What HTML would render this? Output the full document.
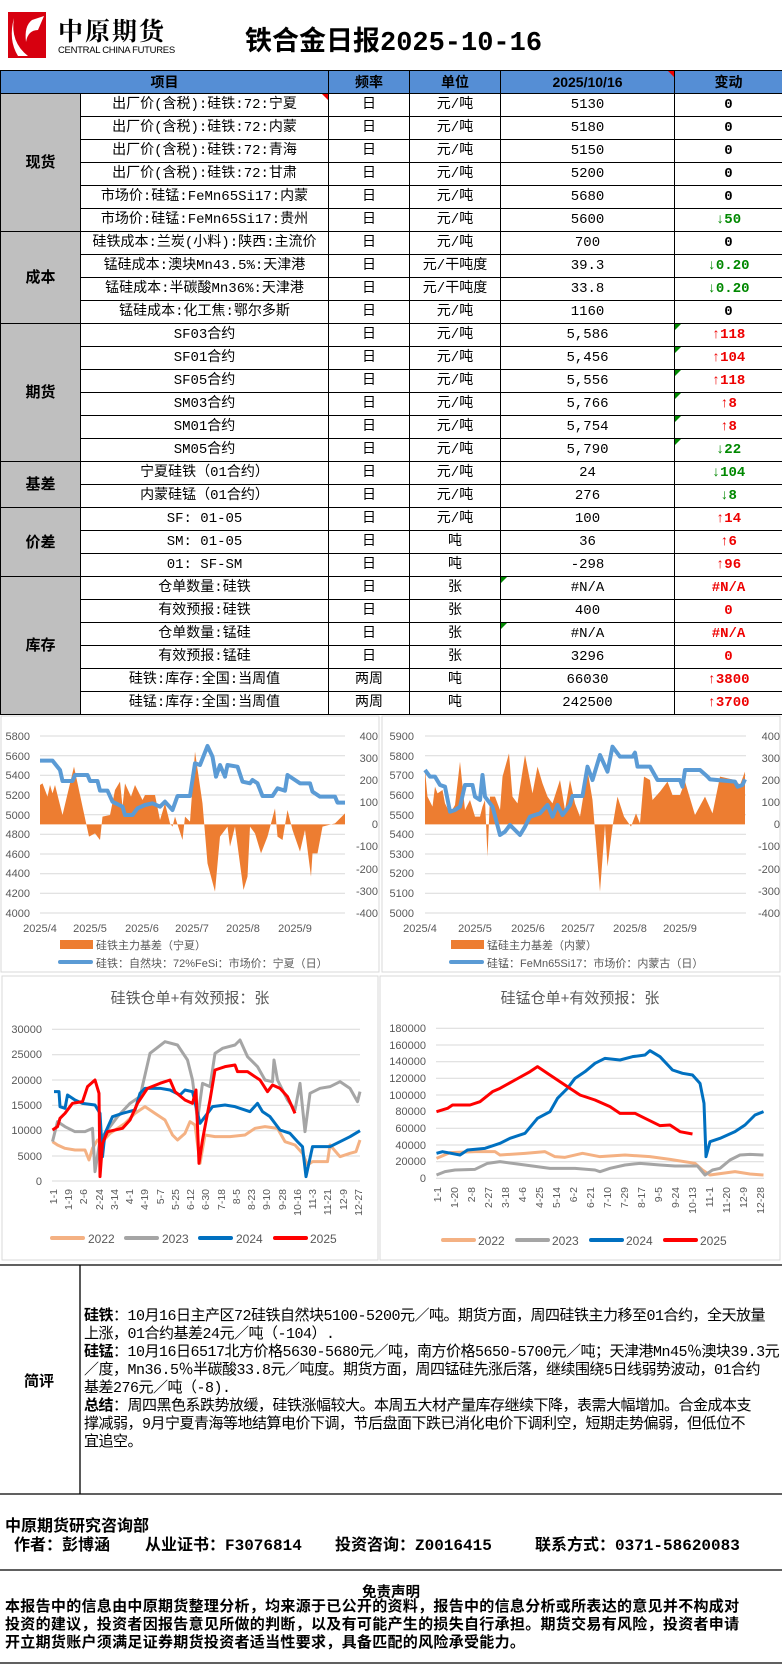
<!DOCTYPE html>
<html><head><meta charset="utf-8"><style>
*{margin:0;padding:0;box-sizing:border-box}
body{width:782px;height:1664px;position:relative;background:#fff;font-family:"Liberation Sans","Noto Sans CJK SC",sans-serif;color:#000;overflow:hidden}
.a{position:absolute;white-space:nowrap}
table{position:absolute;left:0;top:70px;border-collapse:collapse;table-layout:fixed;width:782px}
td{border:1px solid #000;height:23px;font-size:14px;text-align:center;padding:0;line-height:21px;font-family:"Liberation Mono","Noto Sans CJK SC",monospace;overflow:hidden;white-space:nowrap;position:relative}
tr.h td{background:#558ed5;font-weight:bold;font-family:"Liberation Sans","Noto Sans CJK SC",sans-serif}
td.c{background:#bfbfbf;font-weight:bold;font-size:15px;font-family:"Liberation Sans","Noto Sans CJK SC",sans-serif}
.r{color:#e00;font-weight:bold}.g{color:#080;font-weight:bold}.b{font-weight:bold}
.tri:after{content:"";position:absolute;right:0;top:0;border-top:6px solid #e00;border-left:6px solid transparent}
.trg:after{content:"";position:absolute;left:0;top:0;border-top:6px solid #080;border-right:6px solid transparent}
svg text{font-family:"Liberation Sans","Noto Sans CJK SC",sans-serif}
.f{position:absolute;top:1531px;font-size:16px;font-weight:bold;font-family:'Liberation Mono','Noto Sans CJK SC',monospace;white-space:nowrap}
</style></head><body>
<svg class="a" style="left:8px;top:12px" width="40" height="46"><rect x="0" y="0" width="38" height="46" fill="#d7000f"/><path d="M6 6 Q2 30 20 44 L10 44 Q0 28 6 6Z M24 8 L36 4 L30 18 Q20 18 18 30 Q16 14 24 8Z" fill="#fff"/></svg>
<div class="a" style="left:58px;top:12px;font-size:25px;font-weight:bold;font-family:'Noto Serif CJK SC',serif;letter-spacing:2px">中原期货</div>
<div class="a" style="left:58px;top:45px;font-size:9.5px;letter-spacing:-0.3px">CENTRAL CHINA FUTURES</div>
<div class="a" style="left:245px;top:19px;font-size:27px;font-weight:bold;font-family:'Liberation Mono','Noto Sans CJK SC',monospace">铁合金日报2025-10-16</div>
<table>
<colgroup><col style="width:80px"><col style="width:248px"><col style="width:81px"><col style="width:91px"><col style="width:174px"><col style="width:108px"></colgroup>
<tr class="h"><td colspan="2">项目</td><td>频率</td><td>单位</td><td class="tri">2025/10/16</td><td>变动</td></tr>
<tr><td class="c" rowspan="6">现货</td><td class="tri">出厂价(含税):硅铁:72:宁夏</td><td>日</td><td>元/吨</td><td>5130</td><td class="b">0</td></tr>
<tr><td>出厂价(含税):硅铁:72:内蒙</td><td>日</td><td>元/吨</td><td>5180</td><td class="b">0</td></tr>
<tr><td>出厂价(含税):硅铁:72:青海</td><td>日</td><td>元/吨</td><td>5150</td><td class="b">0</td></tr>
<tr><td>出厂价(含税):硅铁:72:甘肃</td><td>日</td><td>元/吨</td><td>5200</td><td class="b">0</td></tr>
<tr><td>市场价:硅锰:FeMn65Si17:内蒙</td><td>日</td><td>元/吨</td><td>5680</td><td class="b">0</td></tr>
<tr><td>市场价:硅锰:FeMn65Si17:贵州</td><td>日</td><td>元/吨</td><td>5600</td><td class="g">↓50</td></tr>
<tr><td class="c" rowspan="4">成本</td><td>硅铁成本:兰炭(小料):陕西:主流价</td><td>日</td><td>元/吨</td><td>700</td><td class="b">0</td></tr>
<tr><td>锰硅成本:澳块Mn43.5%:天津港</td><td>日</td><td>元/干吨度</td><td>39.3</td><td class="g">↓0.20</td></tr>
<tr><td>锰硅成本:半碳酸Mn36%:天津港</td><td>日</td><td>元/干吨度</td><td>33.8</td><td class="g">↓0.20</td></tr>
<tr><td>锰硅成本:化工焦:鄂尔多斯</td><td>日</td><td>元/吨</td><td>1160</td><td class="b">0</td></tr>
<tr><td class="c" rowspan="6">期货</td><td>SF03合约</td><td>日</td><td>元/吨</td><td>5,586</td><td class="r trg">↑118</td></tr>
<tr><td>SF01合约</td><td>日</td><td>元/吨</td><td>5,456</td><td class="r trg">↑104</td></tr>
<tr><td>SF05合约</td><td>日</td><td>元/吨</td><td>5,556</td><td class="r trg">↑118</td></tr>
<tr><td>SM03合约</td><td>日</td><td>元/吨</td><td>5,766</td><td class="r trg">↑8</td></tr>
<tr><td>SM01合约</td><td>日</td><td>元/吨</td><td>5,754</td><td class="r trg">↑8</td></tr>
<tr><td>SM05合约</td><td>日</td><td>元/吨</td><td>5,790</td><td class="g trg">↓22</td></tr>
<tr><td class="c" rowspan="2">基差</td><td>宁夏硅铁（01合约）</td><td>日</td><td>元/吨</td><td>24</td><td class="g">↓104</td></tr>
<tr><td>内蒙硅锰（01合约）</td><td>日</td><td>元/吨</td><td>276</td><td class="g">↓8</td></tr>
<tr><td class="c" rowspan="3">价差</td><td>SF: 01-05</td><td>日</td><td>元/吨</td><td>100</td><td class="r">↑14</td></tr>
<tr><td>SM: 01-05</td><td>日</td><td>吨</td><td>36</td><td class="r">↑6</td></tr>
<tr><td>01: SF-SM</td><td>日</td><td>吨</td><td>-298</td><td class="r">↑96</td></tr>
<tr><td class="c" rowspan="6">库存</td><td>仓单数量:硅铁</td><td>日</td><td>张</td><td class="trg">#N/A</td><td class="r">#N/A</td></tr>
<tr><td>有效预报:硅铁</td><td>日</td><td>张</td><td>400</td><td class="r">0</td></tr>
<tr><td>仓单数量:锰硅</td><td>日</td><td>张</td><td class="trg">#N/A</td><td class="r">#N/A</td></tr>
<tr><td>有效预报:锰硅</td><td>日</td><td>张</td><td>3296</td><td class="r">0</td></tr>
<tr><td>硅铁:库存:全国:当周值</td><td>两周</td><td>吨</td><td>66030</td><td class="r">↑3800</td></tr>
<tr><td>硅锰:库存:全国:当周值</td><td>两周</td><td>吨</td><td>242500</td><td class="r">↑3700</td></tr>
</table>

<svg class="a" style="left:0;top:714px" width="782" height="950" viewBox="0 714 782 950">
<rect x="1" y="716" width="378" height="256" fill="none" stroke="#d9d9d9"/>
<rect x="382" y="716" width="398" height="256" fill="none" stroke="#d9d9d9"/>
<rect x="2" y="976" width="376" height="284" fill="none" stroke="#d9d9d9"/>
<rect x="380" y="976" width="400" height="284" fill="none" stroke="#d9d9d9"/>
<g stroke="#d9d9d9" stroke-width="1">
<path d="M40 736H345M40 755.7H345M40 775.3H345M40 795H345M40 814.7H345M40 834.3H345M40 854H345M40 873.7H345M40 893.3H345M40 913H345"/>
<path d="M425 736H746M425 755.7H746M425 775.3H746M425 795H746M425 814.7H746M425 834.3H746M425 854H746M425 873.7H746M425 893.3H746M425 913H746"/>
</g>
<g font-size="11" fill="#595959" text-anchor="end">
<text x="30" y="740">5800</text><text x="30" y="760">5600</text><text x="30" y="779">5400</text><text x="30" y="799">5200</text><text x="30" y="819">5000</text><text x="30" y="838">4800</text><text x="30" y="858">4600</text><text x="30" y="877">4400</text><text x="30" y="897">4200</text><text x="30" y="917">4000</text>
<text x="378" y="740">400</text><text x="378" y="762">300</text><text x="378" y="784">200</text><text x="378" y="806">100</text><text x="378" y="828">0</text><text x="378" y="850">-100</text><text x="378" y="873">-200</text><text x="378" y="895">-300</text><text x="378" y="917">-400</text>
<text x="414" y="740">5900</text><text x="414" y="760">5800</text><text x="414" y="779">5700</text><text x="414" y="799">5600</text><text x="414" y="819">5500</text><text x="414" y="838">5400</text><text x="414" y="858">5300</text><text x="414" y="877">5200</text><text x="414" y="897">5100</text><text x="414" y="917">5000</text>
<text x="780" y="740">400</text><text x="780" y="762">300</text><text x="780" y="784">200</text><text x="780" y="806">100</text><text x="780" y="828">0</text><text x="780" y="850">-100</text><text x="780" y="873">-200</text><text x="780" y="895">-300</text><text x="780" y="917">-400</text>
</g>
<g font-size="11" fill="#595959" text-anchor="middle">
<text x="40" y="932">2025/4</text><text x="90" y="932">2025/5</text><text x="142" y="932">2025/6</text><text x="192" y="932">2025/7</text><text x="243" y="932">2025/8</text><text x="295" y="932">2025/9</text>
<text x="420" y="932">2025/4</text><text x="475" y="932">2025/5</text><text x="528" y="932">2025/6</text><text x="578" y="932">2025/7</text><text x="630" y="932">2025/8</text><text x="680" y="932">2025/9</text>
</g>
<rect x="60" y="940" width="33" height="9" fill="#ed7d31"/><text x="96" y="949" font-size="11" fill="#595959">硅铁主力基差（宁夏）</text>
<rect x="58" y="960" width="35" height="4" rx="2" fill="#5b9bd5"/><text x="96" y="967" font-size="11" fill="#595959">硅铁：自然块：72%FeSi：市场价：宁夏（日）</text>
<rect x="451" y="940" width="33" height="9" fill="#ed7d31"/><text x="487" y="949" font-size="11" fill="#595959">锰硅主力基差（内蒙）</text>
<rect x="449" y="960" width="35" height="4" rx="2" fill="#5b9bd5"/><text x="487" y="967" font-size="11" fill="#595959">硅锰：FeMn65Si17：市场价：内蒙古（日）</text>

<g transform="translate(0,670) scale(0.5,0.33333)">
<polygon fill="#ed7d31" points="80,463 80,345 85,340 95,380 100,345 105,370 110,345 125,435 148,290 165,410 178,500 190,490 200,510 205,440 220,435 230,360 240,335 245,410 250,340 262,380 270,345 285,390 290,375 310,375 320,450 330,400 340,460 345,470 350,440 365,510 370,440 380,455 390,245 405,400 415,580 430,665 440,500 455,470 460,530 470,470 487,660 495,620 500,470 510,490 522,550 535,500 550,415 555,500 565,510 575,420 585,480 600,545 610,480 622,620 625,550 635,550 645,470 670,460 690,430 690,463"/>
<polyline fill="none" stroke="#5b9bd5" stroke-width="4" vector-effect="non-scaling-stroke" stroke-linejoin="round" points="80,272 105,272 120,300 125,333 145,333 150,315 175,315 180,333 195,333 200,362 215,362 225,395 245,410 250,435 265,435 275,415 290,405 305,400 320,410 330,395 345,420 355,378 380,378 390,280 400,285 415,228 425,260 432,320 440,285 450,320 455,285 475,290 485,335 500,340 505,330 515,340 525,378 545,378 555,355 570,362 575,315 590,330 600,340 620,340 625,365 640,380 670,380 675,398 690,398"/>
<polygon fill="#ed7d31" points="850,463 850,300 855,380 865,410 870,350 875,370 885,360 890,400 900,430 910,405 920,275 930,420 940,390 950,440 960,440 965,410 970,390 975,560 980,380 990,380 1000,420 1005,320 1018,250 1025,380 1035,400 1050,255 1065,370 1075,290 1085,340 1095,380 1105,400 1120,330 1130,420 1140,330 1150,400 1160,440 1175,300 1185,390 1200,665 1210,465 1215,590 1225,470 1235,380 1248,440 1262,470 1272,430 1280,460 1288,320 1300,330 1305,390 1320,365 1335,335 1345,375 1360,375 1370,335 1390,435 1410,380 1425,430 1440,320 1470,330 1480,345 1490,305 1490,463"/>
<polyline fill="none" stroke="#5b9bd5" stroke-width="4" vector-effect="non-scaling-stroke" stroke-linejoin="round" points="850,300 860,320 870,320 880,345 890,350 900,425 910,420 920,410 930,345 945,345 950,380 960,390 965,315 970,380 985,410 1000,495 1010,485 1020,465 1030,480 1040,495 1050,470 1060,440 1080,430 1095,405 1105,440 1115,405 1125,435 1140,405 1145,378 1165,378 1175,290 1185,330 1200,255 1215,305 1225,230 1240,260 1265,260 1270,248 1275,290 1300,290 1315,330 1360,330 1365,350 1370,300 1400,300 1415,320 1420,328 1470,335 1475,350 1485,345 1490,328"/>
</g>

<text x="190" y="1003" font-size="15" fill="#595959" text-anchor="middle">硅铁仓单+有效预报：张</text>
<text x="580" y="1003" font-size="15" fill="#595959" text-anchor="middle">硅锰仓单+有效预报：张</text>
<g stroke="#d9d9d9">
<path d="M52 1029.3H360M52 1054.7H360M52 1080H360M52 1105.3H360M52 1130.7H360M52 1156H360M52 1181H360"/>
<path d="M436 1028.3H764M436 1045H764M436 1061.7H764M436 1078.3H764M436 1095H764M436 1111.7H764M436 1128.3H764M436 1145H764M436 1161.7H764M436 1178.3H764"/>
</g>
<g font-size="11" fill="#595959" text-anchor="end">
<text x="42" y="1033">30000</text><text x="42" y="1058">25000</text><text x="42" y="1084">20000</text><text x="42" y="1109">15000</text><text x="42" y="1134">10000</text><text x="42" y="1160">5000</text><text x="42" y="1185">0</text>
<text x="426" y="1032">180000</text><text x="426" y="1049">160000</text><text x="426" y="1065">140000</text><text x="426" y="1082">120000</text><text x="426" y="1099">100000</text><text x="426" y="1115">80000</text><text x="426" y="1132">60000</text><text x="426" y="1149">40000</text><text x="426" y="1165">20000</text><text x="426" y="1182">0</text>
</g>
<g font-size="10.5" fill="#595959" text-anchor="end">
<text transform="translate(57,1189) rotate(-90)">1-1</text><text transform="translate(72,1189) rotate(-90)">1-19</text><text transform="translate(87,1189) rotate(-90)">2-6</text><text transform="translate(103,1189) rotate(-90)">2-24</text><text transform="translate(118,1189) rotate(-90)">3-14</text><text transform="translate(133,1189) rotate(-90)">4-1</text><text transform="translate(148,1189) rotate(-90)">4-19</text><text transform="translate(164,1189) rotate(-90)">5-7</text><text transform="translate(179,1189) rotate(-90)">5-25</text><text transform="translate(194,1189) rotate(-90)">6-12</text><text transform="translate(209,1189) rotate(-90)">6-30</text><text transform="translate(225,1189) rotate(-90)">7-18</text><text transform="translate(240,1189) rotate(-90)">8-5</text><text transform="translate(255,1189) rotate(-90)">8-23</text><text transform="translate(270,1189) rotate(-90)">9-10</text><text transform="translate(286,1189) rotate(-90)">9-28</text><text transform="translate(301,1189) rotate(-90)">10-16</text><text transform="translate(316,1189) rotate(-90)">11-3</text><text transform="translate(331,1189) rotate(-90)">11-21</text><text transform="translate(347,1189) rotate(-90)">12-9</text><text transform="translate(362,1189) rotate(-90)">12-27</text>
<text transform="translate(441,1187) rotate(-90)">1-1</text><text transform="translate(458,1187) rotate(-90)">1-20</text><text transform="translate(475,1187) rotate(-90)">2-8</text><text transform="translate(492,1187) rotate(-90)">2-27</text><text transform="translate(509,1187) rotate(-90)">3-18</text><text transform="translate(526,1187) rotate(-90)">4-6</text><text transform="translate(543,1187) rotate(-90)">4-25</text><text transform="translate(560,1187) rotate(-90)">5-14</text><text transform="translate(577,1187) rotate(-90)">6-2</text><text transform="translate(594,1187) rotate(-90)">6-21</text><text transform="translate(611,1187) rotate(-90)">7-10</text><text transform="translate(628,1187) rotate(-90)">7-29</text><text transform="translate(645,1187) rotate(-90)">8-17</text><text transform="translate(662,1187) rotate(-90)">9-5</text><text transform="translate(679,1187) rotate(-90)">9-24</text><text transform="translate(696,1187) rotate(-90)">10-13</text><text transform="translate(713,1187) rotate(-90)">11-1</text><text transform="translate(730,1187) rotate(-90)">11-20</text><text transform="translate(747,1187) rotate(-90)">12-9</text><text transform="translate(764,1187) rotate(-90)">12-28</text>
</g>
<g transform="translate(0,960) scale(0.5,0.33333)" fill="none" stroke-width="3" stroke-linejoin="round">
<polyline vector-effect="non-scaling-stroke" stroke="#f4b183" points="105,545 115,555 130,565 150,570 170,570 178,600 185,565 195,540 205,545 220,520 250,490 270,460 290,440 310,460 330,480 345,525 355,540 370,520 380,485 390,495 400,610 410,525 430,530 460,530 490,525 510,505 530,500 555,505 570,545 590,555 605,580 615,615 625,605 655,605 660,555 680,590 700,580 712,575 720,540"/>
<polyline vector-effect="non-scaling-stroke" stroke="#a5a5a5" points="105,545 115,485 130,500 150,515 170,515 185,505 190,635 200,540 215,510 235,470 260,430 280,410 300,280 330,245 355,255 375,300 385,360 395,480 405,370 420,380 430,280 445,265 470,255 480,240 495,290 515,320 530,360 545,365 548,300 555,360 575,420 590,450 600,370 610,515 620,400 640,385 660,380 680,365 700,385 715,425 720,395"/>
<polyline vector-effect="non-scaling-stroke" stroke="#0070c0" points="108,395 118,395 120,440 130,445 135,405 150,420 165,430 190,435 200,460 205,590 210,520 225,470 245,460 270,450 280,400 290,385 320,385 340,390 360,405 370,390 385,395 400,490 410,470 425,440 450,435 470,440 500,455 515,430 525,455 540,470 560,510 580,520 595,545 605,560 612,650 625,560 660,560 680,545 700,530 720,512"/>
<polyline vector-effect="non-scaling-stroke" stroke="#ff0000" points="105,510 115,500 120,475 130,460 145,430 165,425 175,380 190,360 198,400 200,650 205,550 215,515 245,505 260,480 275,430 295,385 320,370 340,360 350,395 370,420 385,430 392,390 398,610 405,540 420,420 430,330 450,320 470,315 475,335 495,335 520,360 535,395 545,375 560,385 575,410 590,460"/>
<polyline vector-effect="non-scaling-stroke" stroke="#f4b183" points="873,595 900,578 950,575 990,575 1000,585 1050,580 1090,575 1110,590 1130,592 1165,580 1200,590 1250,585 1300,590 1340,598 1390,610 1405,630 1420,645 1470,635 1500,642 1527,645"/>
<polyline vector-effect="non-scaling-stroke" stroke="#a5a5a5" points="873,645 890,635 910,630 950,628 975,610 1000,605 1050,615 1100,625 1150,625 1190,630 1200,635 1220,625 1250,615 1280,610 1320,615 1350,618 1395,618 1410,645 1425,630 1440,625 1460,600 1480,585 1500,583 1527,585"/>
<polyline vector-effect="non-scaling-stroke" stroke="#0070c0" points="873,580 885,575 920,585 935,570 970,565 1000,550 1020,535 1050,520 1075,475 1100,455 1115,415 1135,385 1150,355 1170,335 1190,310 1210,295 1240,300 1265,290 1290,285 1300,272 1320,290 1345,330 1365,340 1385,345 1400,370 1408,430 1412,590 1420,545 1440,535 1470,515 1490,495 1510,465 1527,455"/>
<polyline vector-effect="non-scaling-stroke" stroke="#ff0000" points="873,455 895,445 905,435 940,435 960,425 985,395 1000,385 1030,360 1060,335 1075,320 1095,340 1110,355 1140,385 1160,405 1190,420 1220,440 1240,460 1270,460 1290,475 1320,497 1340,495 1360,515 1385,522"/>
</g>
<g font-size="12" fill="#595959">
<rect x="50" y="1236" width="35" height="4" rx="2" fill="#f4b183"/><text x="88" y="1243">2022</text>
<rect x="124" y="1236" width="35" height="4" rx="2" fill="#a5a5a5"/><text x="162" y="1243">2023</text>
<rect x="198" y="1236" width="35" height="4" rx="2" fill="#0070c0"/><text x="236" y="1243">2024</text>
<rect x="273" y="1236" width="35" height="4" rx="2" fill="#ff0000"/><text x="310" y="1243">2025</text>
<rect x="441" y="1238" width="35" height="4" rx="2" fill="#f4b183"/><text x="478" y="1245">2022</text>
<rect x="515" y="1238" width="35" height="4" rx="2" fill="#a5a5a5"/><text x="552" y="1245">2023</text>
<rect x="589" y="1238" width="35" height="4" rx="2" fill="#0070c0"/><text x="626" y="1245">2024</text>
<rect x="663" y="1238" width="35" height="4" rx="2" fill="#ff0000"/><text x="700" y="1245">2025</text>
</g>
<g stroke="#000" stroke-width="1.3" fill="none">
<path d="M0 1265H782M0 1494H782M80 1265V1494M0 1570H782M0 1663H782"/>
</g>
</svg>
<div class="a" style="left:24px;top:1370px;font-size:15px;font-weight:bold">简评</div>
<div class="a" style="left:84px;top:1308px;font-size:15px;line-height:18px;font-family:'Liberation Mono','Noto Sans CJK SC',monospace;letter-spacing:-0.5px">
<b>硅铁</b>：10月16日主产区72硅铁自然块5100-5200元／吨。期货方面，周四硅铁主力移至01合约，全天放量<br>上涨，01合约基差24元／吨（-104）.<br>
<b>硅锰</b>：10月16日6517北方价格5630-5680元／吨，南方价格5650-5700元／吨；天津港Mn45％澳块39.3元<br>／度，Mn36.5％半碳酸33.8元／吨度。期货方面，周四锰硅先涨后落，继续围绕5日线弱势波动，01合约<br>基差276元／吨（-8).<br>
<b>总结</b>：周四黑色系跌势放缓，硅铁涨幅较大。本周五大材产量库存继续下降，表需大幅增加。合金成本支<br>撑减弱，9月宁夏青海等地结算电价下调，节后盘面下跌已消化电价下调利空，短期走势偏弱，但低位不<br>宜追空。</div>
<div class="a" style="left:5px;top:1512px;font-size:16px;font-weight:bold">中原期货研究咨询部</div>
<div class="f" style="left:14px">作者：彭博涵</div>
<div class="f" style="left:145px">从业证书：F3076814</div>
<div class="f" style="left:335px">投资咨询：Z0016415</div>
<div class="f" style="left:535px">联系方式：0371-58620083</div>
<div class="a" style="left:0;width:782px;text-align:center;top:1581px;font-size:14.5px;font-weight:bold">免责声明</div>
<div class="a" style="left:5px;top:1598px;font-size:15px;line-height:18px;font-weight:bold;letter-spacing:0.3px">本报告中的信息由中原期货整理分析，均来源于已公开的资料，报告中的信息分析或所表达的意见并不构成对<br>投资的建议，投资者因报告意见所做的判断，以及有可能产生的损失自行承担。期货交易有风险，投资者申请<br>开立期货账户须满足证券期货投资者适当性要求，具备匹配的风险承受能力。</div>
</body></html>
